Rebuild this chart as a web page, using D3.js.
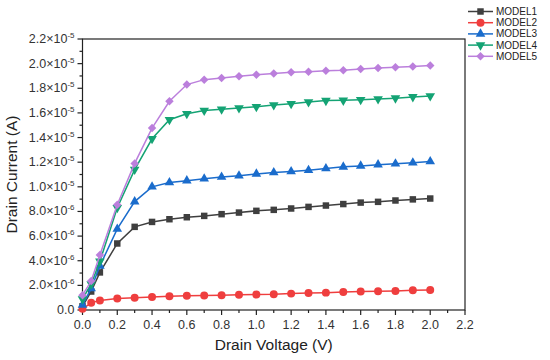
<!DOCTYPE html>
<html><head><meta charset="utf-8">
<script src="https://cdn.jsdelivr.net/npm/d3@7"></script>
<style>
body{margin:0;background:#fff;}
svg{display:block;font-family:"Liberation Sans",Arial,sans-serif;}
</style></head><body>
<svg id="c" width="550" height="360"></svg>
<script>
const voltages = [0, 0.05, 0.1, 0.2, 0.3, 0.4, 0.5, 0.6, 0.7, 0.8, 0.9, 1.0, 1.1, 1.2, 1.3, 1.4, 1.5, 1.6, 1.7, 1.8, 1.9, 2.0];
const model1 = [0.3, 1.5, 3.05, 5.4, 6.75, 7.15, 7.37, 7.53, 7.64, 7.78, 7.91, 8.05, 8.13, 8.24, 8.37, 8.48, 8.6, 8.72, 8.78, 8.89, 8.98, 9.05];
const model2 = [0.1, 0.58, 0.78, 0.93, 1.0, 1.06, 1.11, 1.15, 1.17, 1.19, 1.24, 1.25, 1.27, 1.33, 1.38, 1.41, 1.47, 1.5, 1.53, 1.55, 1.6, 1.63];
const model3 = [0.4, 1.75, 3.58, 6.58, 8.8, 10.0, 10.35, 10.5, 10.65, 10.79, 10.9, 11.05, 11.16, 11.24, 11.35, 11.48, 11.62, 11.7, 11.8, 11.87, 11.95, 12.05];
const model4 = [0.9, 2.1, 3.95, 8.3, 11.4, 13.9, 15.45, 15.93, 16.2, 16.3, 16.4, 16.5, 16.64, 16.75, 16.89, 17.0, 17.02, 17.07, 17.13, 17.2, 17.3, 17.37];
const model5 = [1.2, 2.35, 4.47, 8.54, 11.9, 14.77, 16.94, 18.3, 18.7, 18.84, 18.97, 19.1, 19.2, 19.3, 19.35, 19.42, 19.46, 19.57, 19.65, 19.7, 19.76, 19.84];
const seriesNames = ["MODEL1", "MODEL2", "MODEL3", "MODEL4", "MODEL5"];
const valueScale = 1e-6;
const xTicks = [0, 0.2, 0.4, 0.6, 0.8, 1.0, 1.2, 1.4, 1.6, 1.8, 2.0, 2.2];
const yTickMantissa = ["0.0", "2.0", "4.0", "6.0", "8.0", "1.0", "1.2", "1.4", "1.6", "1.8", "2.0", "2.2"];
const yTickExp = ["", "-6", "-6", "-6", "-6", "-5", "-5", "-5", "-5", "-5", "-5", "-5"];

const colors = ["#3f3f3f", "#ef3e3e", "#1a6ccc", "#14a374", "#bb7fdc"];
const series = [model1, model2, model3, model4, model5];

const svg = d3.select("#c");
const x = d3.scaleLinear().domain([0, 2.2]).range([82.5, 465]);
const y = d3.scaleLinear().domain([0, 2.2e-5]).range([310, 39]);

const axCol = "#222";
svg.append("rect").attr("x", x(0)).attr("y", y(2.2e-5)).attr("width", x(2.2) - x(0)).attr("height", y(0) - y(2.2e-5))
  .attr("fill", "none").attr("stroke", axCol).attr("stroke-width", 1.2);

const xMinor = d3.range(0, 23).map(i => i * 0.1);
const gx = svg.append("g").attr("transform", `translate(0,${y(0)})`);
gx.selectAll("line.mn").data(xMinor).join("line").attr("x1", d => x(d)).attr("x2", d => x(d))
  .attr("y1", 0).attr("y2", (d, i) => i % 2 === 0 ? 5 : 3).attr("stroke", axCol).attr("stroke-width", 1.2);
gx.selectAll("text").data(xTicks).join("text").attr("x", d => x(d)).attr("y", 19)
  .attr("text-anchor", "middle").attr("font-size", 12.5).attr("fill", "#333").text(d => d.toFixed(1));

const yMinor = d3.range(0, 23).map(i => i * 1e-6);
const gy = svg.append("g").attr("transform", `translate(${x(0)},0)`);
gy.selectAll("line").data(yMinor).join("line").attr("y1", d => y(d)).attr("y2", d => y(d))
  .attr("x1", 0).attr("x2", (d, i) => i % 2 === 0 ? -5 : -3).attr("stroke", axCol).attr("stroke-width", 1.2);
const yt = gy.selectAll("text").data(yTickMantissa).join("text")
  .attr("x", -8).attr("y", (d, i) => y(i * 2e-6) + 4).attr("text-anchor", "end").attr("font-size", 12.5).attr("fill", "#333");
yt.each(function(d, i) {
  const t = d3.select(this);
  if (yTickExp[i] === "") { t.text(d); return; }
  t.append("tspan").text(d + "\u00d710");
  t.append("tspan").attr("font-size", 8).attr("dy", -5).text(yTickExp[i]);
});

svg.append("text").attr("x", (x(0) + x(2.2)) / 2).attr("y", 350).attr("text-anchor", "middle")
  .attr("font-size", 15.5).attr("fill", "#222").text("Drain Voltage (V)");
svg.append("text").attr("transform", `translate(17,${(y(0) + y(2.2e-5)) / 2}) rotate(-90)`).attr("text-anchor", "middle")
  .attr("font-size", 15.5).attr("fill", "#222").text("Drain Current (A)");

function sym(i) {
  if (i === 0) return { p: d3.symbol(d3.symbolSquare, 42)(), r: 0 };
  if (i === 1) return { p: d3.symbol(d3.symbolCircle, 50)(), r: 0 };
  if (i === 2) return { p: d3.symbol(d3.symbolTriangle, 40)(), r: 0 };
  if (i === 3) return { p: d3.symbol(d3.symbolTriangle, 40)(), r: 180 };
  return { p: d3.symbol(d3.symbolSquare, 36)(), r: 45 };
}

const line = d3.line().x(d => x(d[0])).y(d => y(d[1] * valueScale));
series.forEach((vals, i) => {
  const pts = voltages.map((v, j) => [v, vals[j]]);
  const g = svg.append("g");
  g.append("path").attr("d", line(pts)).attr("fill", "none").attr("stroke", colors[i]).attr("stroke-width", 1.5);
  const s = sym(i);
  g.selectAll("path.m").data(pts).join("path").attr("class", "m").attr("d", s.p)
    .attr("transform", d => `translate(${x(d[0])},${y(d[1] * valueScale)}) rotate(${s.r})`)
    .attr("fill", colors[i]);
});

const lg = svg.append("g");
seriesNames.forEach((n, i) => {
  const yy = 11.5 + i * 11.2;
  lg.append("line").attr("x1", 468).attr("x2", 493).attr("y1", yy).attr("y2", yy).attr("stroke", colors[i]).attr("stroke-width", 1.5);
  const s = sym(i);
  lg.append("path").attr("d", s.p).attr("transform", `translate(480.5,${yy}) rotate(${s.r})`).attr("fill", colors[i]);
  lg.append("text").attr("x", 496).attr("y", yy + 3.5).attr("font-size", 10).attr("fill", "#222").text(n);
});
</script>
</body></html>
